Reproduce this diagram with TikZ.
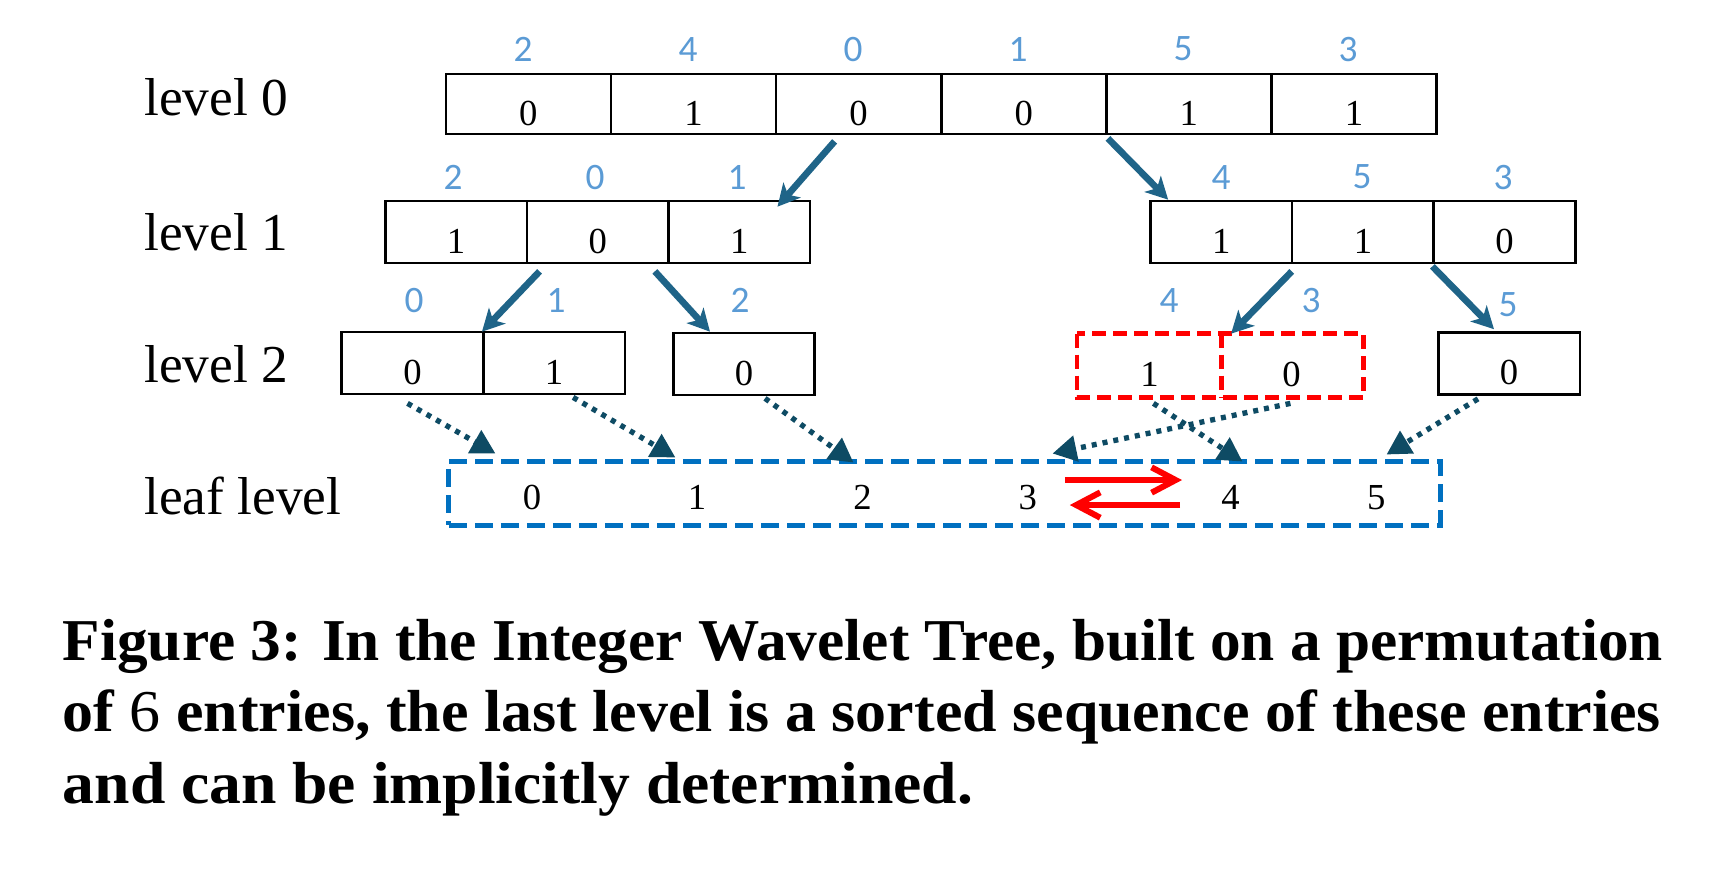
\documentclass[tikz,border=0pt]{standalone}
\usepackage{fontspec}
\usepackage{graphicx}
\setmainfont{Liberation Serif}
\newfontfamily\calibrifont{Carlito}
\usetikzlibrary{arrows.meta,calc}
\definecolor{lblblue}{HTML}{5B9BD5}
\definecolor{arrblue}{HTML}{1F6488}
\definecolor{dotblue}{HTML}{0E4B64}
\definecolor{leafblue}{HTML}{0070C0}
\definecolor{redc}{HTML}{FF0000}
\begin{document}
\begin{tikzpicture}[x=0.15pt,y=-0.15pt,
  cellbase/.style={line width=0.4pt,inner sep=0pt,font=\fontsize{5.5}{6}\selectfont,text height=6.3pt,text depth=0pt},
  cellA/.style={cellbase,draw=black,minimum width=24.77pt,minimum height=9pt},
  cellB/.style={cellbase,draw=black,minimum width=21.24pt,minimum height=9.3pt},
  cellR/.style={cellbase,minimum width=21.3pt,minimum height=9.15pt},
  reddash/.style={draw=redc,line width=0.7pt,dash pattern=on 2.1pt off 1.05pt},
  lbl/.style={text=lblblue,inner sep=0pt,font=\calibrifont\fontsize{5.6}{6}\selectfont},
  lvl/.style={anchor=base west,inner sep=0pt,font=\fontsize{8}{9.6}\selectfont},
  leafd/.style={inner sep=0pt,font=\fontsize{5.5}{6}\selectfont},
  leafbox/.style={draw=leafblue,line width=0.75pt,dash pattern=on 2.7pt off 1.2pt,minimum width=148.65pt,minimum height=9.6pt,inner sep=0pt},
  sarrow/.style={draw=arrblue,line width=1pt,-{Stealth[length=3.3pt,width=3.4pt,inset=0.9pt]}},
  darrow/.style={draw=dotblue,line width=0.8pt,dash pattern=on 0.75pt off 0.9pt,-{Triangle[length=3.6pt,width=3.8pt]}},
  rarrow/.style={draw=redc,line width=0.9pt,-{Straight Barb[length=3.6pt,width=3.8pt]}},
  capt/.style={anchor=base west,inner sep=0pt,font=\bfseries\fontsize{8.9}{10.6}\selectfont}
]
\useasboundingbox (0,0) rectangle (1726,872);

% level labels
\node[lvl] (lab0) at (143,115) {level 0};
\node[lvl] (lab1) at (143,250) {level 1};
\node[lvl] (lab2) at (143,382) {level 2};
\node[lvl] (lab3) at (143,514) {leaf level};

% level 0
\node[cellA] (l0c1) at (528.4,104) {0};
\node[cellA] (l0c2) at (693.5,104) {1};
\node[cellA] (l0c3) at (858.6,104) {0};
\node[cellA] (l0c4) at (1023.7,104) {0};
\node[cellA] (l0c5) at (1188.8,104) {1};
\node[cellA] (l0c6) at (1353.9,104) {1};
\node[lbl] (b0c1) at (523,49) {2};
\node[lbl] (b0c2) at (688,49) {4};
\node[lbl] (b0c3) at (853,49) {0};
\node[lbl] (b0c4) at (1018,49) {1};
\node[lbl] (b0c5) at (1183,49) {5};
\node[lbl] (b0c6) at (1348,49) {3};

% level 1
\node[cellB] (l1a1) at (456.1,232) {1};
\node[cellB] (l1a2) at (597.7,232) {0};
\node[cellB] (l1a3) at (739.3,232) {1};
\node[cellB] (l1b1) at (1221.3,232) {1};
\node[cellB] (l1b2) at (1362.9,232) {1};
\node[cellB] (l1b3) at (1504.5,232) {0};
\node[lbl] (b1a1) at (453,177) {2};
\node[lbl] (b1a2) at (595,177) {0};
\node[lbl] (b1a3) at (737,177) {1};
\node[lbl] (b1b1) at (1221,177) {4};
\node[lbl] (b1b2) at (1362,177) {5};
\node[lbl] (b1b3) at (1503,177) {3};

% level 2
\node[cellB] (l2a1) at (412.5,363) {0};
\node[cellB] (l2a2) at (554.1,363) {1};
\node[cellB] (l2b) at (744,364) {0};
\node[cellR] (l2c1) at (1149.4,365.5) {1};
\node[cellR] (l2c2) at (1291.4,365.5) {0};
\draw[reddash] (l2c1.north west) rectangle (l2c2.south east);
\draw[reddash] (l2c1.north east) -- (l2c1.south east);
\node[cellB] (l2d) at (1509,363.5) {0};
\node[lbl] (b2a1) at (414,300) {0};
\node[lbl] (b2a2) at (556,300) {1};
\node[lbl] (b2b) at (740,300) {2};
\node[lbl] (b2c1) at (1169,300) {4};
\node[lbl] (b2c2) at (1311,300) {3};
\node[lbl] (b2d) at (1508,305) {5};

% leaf level
\node[leafbox] (leaf) at (944.5,493) {};
\node[leafd] (lf0) at (532,497.5) {0};
\node[leafd] (lf1) at (697,497.5) {1};
\node[leafd] (lf2) at (862.5,497.5) {2};
\node[leafd] (lf3) at (1027.8,497.5) {3};
\node[leafd] (lf4) at (1230.6,497.5) {4};
\node[leafd] (lf5) at (1376.3,497.5) {5};

% solid arrows
\draw[sarrow] ($(l0c3.south)+(-24,6)$) -- ($(l1a3.north east)+(-34,7)$);
\draw[sarrow] ($(l0c5.south west)+(3,3)$) -- ($(l1b1.north west)+(19,0)$);
\draw[sarrow] ($(l1a2.south west)+(14,7)$) -- ($(l2a2.north west)+(0,1)$);
\draw[sarrow] ($(l1a2.south east)+(-15,7)$) -- ($(l2b.north)+(-34,0)$);
\draw[sarrow] ($(l1b2.south west)+(1,7)$) -- ($(l2c2.north west)+(12,0)$);
\draw[sarrow] ($(l1b3.south west)+(0,2)$) -- ($(l2d.north)+(-15,-2)$);

% dotted arrows
\draw[darrow] ($(l2a1.south)+(-5,8)$) -- ($(leaf.north west)+(49,-5)$);
\draw[darrow] ($(l2a2.south)+(19,2)$) -- ($(leaf.north west)+(229,-1)$);
\draw[darrow] ($(l2b.south)+(21,2)$) -- ($(leaf.north west)+(407,4)$);
\draw[darrow] ($(l2c1.south)+(4,6)$) -- ($(leaf.north west)+(796,3)$);
\draw[darrow] ($(l2c2.south)+(-1,6)$) -- ($(leaf.north west)+(606,-5)$);
\draw[darrow] ($(l2d.south)+(-31,3)$) -- ($(leaf.north west)+(940,-4)$);

% red swap arrows
\draw[rarrow] ($(lf3)+(37,-17.5)$) -- ($(lf4)+(-48.6,-17.5)$);
\draw[rarrow] ($(lf4)+(-50.6,7.5)$) -- ($(lf3)+(42,7.5)$);

% caption
\node[capt] (cap1) at (61.5,660) {\resizebox{240pt}{\height}{Figure 3: In the Integer Wavelet Tree, built on a permutation}};
\node[capt] (cap2) at (61.5,731.7) {\resizebox{239.7pt}{\height}{of {\mdseries 6} entries, the last level is a sorted sequence of these entries}};
\node[capt] (cap3) at (61.5,803) {\resizebox{136.5pt}{\height}{and can be implicitly determined.}};
\end{tikzpicture}
\end{document}
